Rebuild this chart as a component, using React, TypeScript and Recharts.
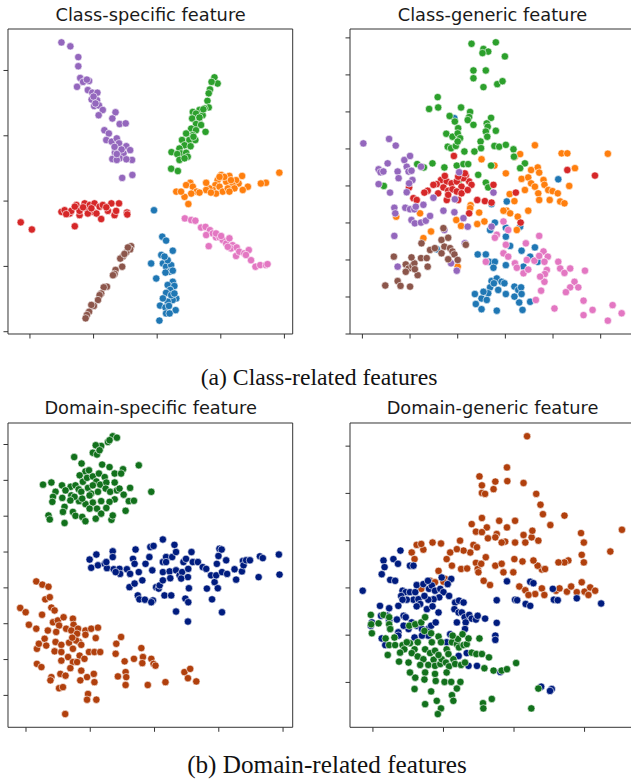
import React from 'react';
import { ScatterChart, Scatter, XAxis, YAxis, ReferenceArea } from 'recharts';

// tab10 for classes, seaborn "dark" for domains
const C = {
  blue: '#1f77b4', orange: '#ff7f0e', green: '#2ca02c', red: '#d62728',
  purple: '#9467bd', brown: '#8c564b', pink: '#e377c2',
  dBlue: '#001c7f', dOrange: '#b1400d', dGreen: '#12711c',
};

// ---- (a) class-specific feature ----
const csPurple = [[-30.1,48.6],[-27.3,47.4],[-24.8,44.1],[-24.8,41.3],[-24.2,37.7],[-25.2,35.0],[-22.5,37.0],[-21.4,36.8],[-23.3,36.5],[-21.8,34.0],[-20.4,33.2],[-18.8,33.2],[-20.6,31.1],[-18.9,30.9],[-19.8,29.1],[-18.3,29.3],[-17.1,27.9],[-18.4,26.3],[-13.1,27.2],[-14.1,25.3],[-11.8,23.6],[-9.9,23.8],[-16.6,21.7],[-15.2,20.7],[-16.0,18.7],[-14.3,18.2],[-12.7,19.2],[-12.0,17.7],[-9.7,16.8],[-8.5,15.6],[-13.3,14.8],[-11.6,15.1],[-10.6,14.6],[-11.8,13.1],[-14.1,12.9],[-7.9,12.6],[-9.7,12.8],[-12.7,12.6],[-11.0,7.1],[-7.8,8.0],[-22.1,37.2],[-20.0,32.0],[-19.4,29.9],[-13.4,16.6],[-11.2,15.8],[-12.7,14.4]];
const csGreen = [[18.0,37.9],[19.0,36.0],[17.1,36.5],[16.6,34.2],[16.2,33.0],[15.8,30.7],[16.2,28.7],[14.9,28.4],[13.3,27.9],[11.2,27.3],[12.2,26.8],[14.3,26.3],[11.0,25.3],[13.1,24.8],[12.2,23.6],[13.8,23.3],[15.2,21.2],[10.7,22.2],[12.2,21.7],[11.2,20.2],[9.1,20.7],[10.1,18.7],[7.8,18.7],[12.0,18.7],[8.6,17.1],[10.5,16.8],[7.0,16.1],[7.5,14.6],[4.5,15.0],[6.3,14.4],[9.1,14.8],[9.6,13.6],[7.0,12.6],[8.6,13.1],[4.4,9.9],[6.5,9.2],[11.4,19.7],[13.3,25.6],[14.5,28.1]];
const csOrange = [[38.4,8.7],[34.2,5.6],[32.6,5.4],[26.7,7.7],[28.5,4.4],[26.9,3.4],[25.6,5.4],[24.8,6.4],[22.7,7.7],[23.7,4.9],[21.7,5.9],[20.1,8.0],[19.0,6.4],[18.3,4.9],[17.5,3.4],[16.4,3.9],[15.4,3.4],[19.6,4.4],[20.6,2.9],[22.2,3.9],[18.5,2.3],[16.9,2.6],[23.2,6.4],[24.3,3.9],[22.7,2.9],[10.4,5.6],[9.1,4.9],[11.2,4.4],[12.4,2.9],[10.7,2.3],[8.6,1.3],[6.0,2.9],[7.5,2.9],[9.8,-0.9],[13.3,2.6],[15.4,5.6],[21.1,7.4],[19.6,7.4]];
const csRed = [[-42.9,-6.5],[-39.4,-8.7],[-30.1,-3.3],[-29.1,-2.8],[-27.5,-3.8],[-25.9,-7.7],[-25.4,-1.2],[-24.4,-4.3],[-22.8,-0.7],[-22.3,-2.2],[-21.2,-1.2],[-20.2,-3.3],[-19.7,-0.7],[-18.1,-1.7],[-19.1,-3.8],[-17.6,-5.5],[-24.4,-3.0],[-23.3,-1.9],[-21.8,-3.8],[-27.0,-3.0],[-28.6,-4.0],[-17.1,-1.2],[-15.5,-3.0],[-14.4,-0.7],[-13.4,-4.3],[-12.0,-0.7],[-12.9,-3.0],[-9.5,-3.5],[-9.4,-4.1],[-16.0,-1.9],[-20.7,-2.2],[-25.9,-1.7]];
const csPink = [[8.7,-5.3],[10.7,-5.8],[12.0,-6.0],[13.8,-8.1],[15.2,-7.9],[16.6,-8.9],[15.4,-10.4],[16.2,-13.8],[17.5,-9.9],[18.5,-11.1],[19.6,-11.1],[20.6,-11.9],[21.7,-13.0],[22.7,-11.4],[23.7,-13.5],[23.2,-14.5],[25.0,-14.2],[24.8,-16.8],[25.8,-15.5],[27.4,-16.0],[28.8,-15.0],[29.5,-18.1],[27.9,-16.5],[30.9,-20.1],[32.4,-19.6],[34.2,-19.6],[34.7,-19.3],[18.5,-9.9],[20.1,-10.7],[22.2,-14.0]];
const csBlue = [[-1.0,-2.8],[1.6,-10.9],[2.8,-12.1],[1.3,-16.5],[4.9,-15.2],[-1.9,-19.1],[1.8,-19.1],[2.8,-20.1],[4.4,-19.6],[3.9,-21.6],[4.9,-21.3],[2.6,-21.9],[-0.3,-23.7],[4.9,-24.7],[3.3,-25.7],[5.4,-26.0],[4.1,-27.2],[2.8,-28.1],[6.0,-29.8],[4.9,-30.3],[3.3,-30.8],[1.8,-29.8],[0.9,-32.0],[2.6,-32.6],[3.7,-32.1],[5.8,-33.4],[2.8,-34.4],[3.9,-34.4],[0.7,-36.6],[4.4,-28.8],[5.4,-28.3],[3.3,-18.1],[2.3,-17.0]];
const csBrown = [[-8.2,-13.8],[-8.5,-14.8],[-9.7,-15.7],[-10.8,-17.0],[-11.6,-17.6],[-11.0,-20.1],[-13.1,-21.1],[-13.4,-22.3],[-13.9,-22.7],[-15.8,-26.2],[-16.8,-26.4],[-17.6,-28.3],[-18.1,-28.8],[-18.6,-30.3],[-19.9,-32.1],[-20.7,-31.8],[-21.4,-33.9],[-22.1,-34.9],[-22.5,-35.9],[-9.2,-14.2],[-10.3,-16.2]];

// ---- (a) class-generic feature ----
const cgBlue = [[-0.7,18.3],[7.1,-4.9],[10.3,-4.2],[7.8,-9.9],[6.8,-11.9],[10.1,-11.3],[10.1,-13.7],[11.0,-16.2],[13.1,-11.0],[13.4,-17.5],[13.8,-21.8],[16.2,-16.6],[15.2,-19.1],[16.8,-20.5],[4.2,-18.5],[5.9,-18.5],[6.6,-20.5],[7.8,-20.5],[7.5,-22.1],[10.1,-21.4],[7.1,-25.7],[8.2,-25.0],[9.2,-25.9],[9.8,-26.3],[6.8,-27.4],[6.4,-29.0],[8.5,-28.1],[10.1,-29.2],[11.9,-27.2],[12.7,-28.1],[13.3,-27.4],[13.4,-29.2],[12.9,-31.5],[13.6,-33.5],[15.2,-31.3],[3.6,-29.2],[5.0,-30.4],[6.1,-30.8],[3.8,-31.9],[5.0,-33.3],[8.2,-33.7],[11.9,-29.9],[21.1,1.8],[-4.4,-17.1],[7.6,-26.3],[5.4,-28.6]];
const cgOrange = [[16.2,11.0],[21.8,8.8],[23.0,8.8],[31.5,8.7],[12.0,7.9],[13.1,8.6],[5.0,7.2],[7.7,5.5],[10.1,3.4],[13.4,1.9],[15.4,4.3],[16.8,5.0],[17.1,3.6],[14.8,2.3],[15.4,0.7],[14.1,-1.1],[16.2,-0.2],[18.0,1.6],[18.2,0.3],[16.9,-2.0],[19.0,-1.1],[19.9,-1.4],[21.0,-2.0],[23.4,0.0],[24.6,4.8],[10.9,-2.2],[11.9,-4.1],[10.3,-6.7],[11.0,-7.4],[12.6,-8.3],[14.8,-6.7],[17.1,-3.8],[19.3,-3.8],[21.5,-4.2],[22.4,-4.7],[2.7,-5.2],[4.5,-7.2],[2.6,-6.0],[-0.3,-9.2],[0.7,-10.8],[4.1,-10.3],[5.6,-9.6],[-5.6,-12.3],[-7.2,-14.1],[-12.9,-8.3],[-7.9,-7.4],[0.0,-21.8],[9.6,-6.7],[12.4,-11.9]];
const cgGreen = [[2.9,38.4],[5.4,37.0],[6.4,36.3],[5.2,35.9],[8.0,38.8],[9.9,35.0],[3.3,31.2],[5.9,31.2],[3.3,29.1],[5.4,26.7],[8.3,27.5],[9.4,28.3],[-4.2,24.0],[-6.0,20.8],[-4.1,21.2],[0.7,21.2],[2.6,20.0],[2.4,18.6],[2.1,17.8],[-1.7,18.9],[-0.6,17.4],[3.3,16.5],[7.0,18.4],[6.1,16.9],[6.3,16.0],[5.9,14.7],[6.2,13.3],[8.0,14.9],[-2.4,14.1],[-1.1,13.3],[0.1,15.6],[0.0,14.2],[0.5,12.9],[-2.1,10.6],[-1.4,10.2],[-0.4,10.8],[0.0,12.0],[4.8,12.0],[4.9,10.2],[3.5,9.3],[1.4,9.3],[7.7,10.8],[8.7,10.6],[10.1,11.1],[11.7,9.9],[11.8,7.9],[14.1,6.1],[13.1,4.8],[7.0,5.5],[-8.5,5.9],[-7.1,5.0],[-5.3,6.1],[-2.8,5.0],[-0.2,5.5],[1.2,5.9],[2.2,5.9],[4.3,3.0],[5.9,0.9],[6.4,-0.4],[-15.5,0.0],[0.3,1.6]];
const cgRed = [[-3.5,1.6],[-4.4,0.5],[-2.3,1.2],[-1.3,0.7],[-0.2,1.2],[0.8,-0.2],[1.7,2.8],[2.4,1.2],[2.9,0.3],[1.2,2.1],[0.1,2.5],[-3.0,-0.4],[-2.0,-1.3],[-1.1,-0.9],[-0.2,-1.5],[0.8,-2.0],[2.1,-1.1],[-4.1,-2.0],[-5.1,0.3],[-2.3,-3.8],[-2.0,-2.4],[0.1,-3.8],[-6.3,-1.3],[-7.0,-1.8],[-9.3,-3.3],[-8.6,-3.8],[-10.2,-0.4],[4.1,-3.8],[5.7,-4.1],[7.5,0.3],[7.1,-4.5],[2.4,-7.4],[-0.8,8.1],[23.0,4.3],[28.8,2.8],[13.2,-9.9],[12.2,-1.8],[1.5,3.4],[-2.7,2.7]];
const cgPurple = [[-19.8,11.5],[-14.4,12.7],[-13.0,10.9],[-16.6,4.5],[-16.2,3.7],[-15.6,3.9],[-14.7,6.1],[-16.6,0.5],[-14.2,-1.8],[-12.6,3.9],[-12.4,2.1],[-11.2,7.0],[-10.0,8.1],[-10.7,5.2],[-10.3,3.9],[-9.7,4.1],[-9.5,1.6],[-10.7,-1.7],[-10.2,0.7],[-7.7,5.2],[-13.3,-5.9],[-13.1,-7.4],[-11.0,-5.9],[-10.0,-6.3],[-9.1,-6.3],[-7.2,-5.1],[-9.7,-9.2],[-9.0,-10.1],[-7.7,-9.9],[-6.7,-9.4],[-5.8,-8.1],[-5.1,-3.2],[-3.0,-6.7],[-0.7,-7.1],[1.2,-8.7],[2.1,-11.0],[-2.8,-11.9],[-13.3,-13.5],[-12.6,-21.8],[-0.2,-22.9],[-1.4,-20.9],[7.1,-11.0],[7.5,-1.8],[0.3,3.7],[-0.6,-3.6],[1.5,-15.5],[-8.8,-5.6]];
const cgBrown = [[-15.2,-26.9],[-13.4,-19.1],[-12.6,-25.7],[-12.0,-27.0],[-10.0,-27.2],[-10.9,-21.2],[-10.3,-22.3],[-10.9,-23.2],[-9.5,-21.6],[-9.1,-20.9],[-8.4,-24.1],[-7.7,-19.5],[-6.5,-19.5],[-6.3,-21.8],[-5.8,-17.3],[-7.6,-15.5],[-3.4,-14.6],[-2.0,-14.0],[-2.8,-16.4],[-3.4,-18.2],[-1.6,-16.8],[-1.1,-17.7],[-0.7,-18.5],[-2.0,-19.8],[0.0,-20.0],[1.7,-15.9],[-4.8,-16.8],[-3.0,-11.4],[-9.7,-19.3],[-9.0,-22.5]];
const cgPink = [[9.6,-9.6],[10.6,-11.9],[8.2,-13.2],[7.8,-14.0],[10.1,-15.9],[9.6,-18.2],[10.6,-19.1],[5.9,-20.5],[12.0,-20.9],[12.4,-22.1],[13.8,-23.6],[14.3,-15.5],[14.5,-20.0],[16.1,-20.2],[17.1,-13.5],[18.0,-17.7],[17.1,-18.9],[18.9,-19.1],[18.2,-20.5],[18.7,-22.7],[18.3,-23.8],[18.2,-25.9],[17.5,-28.3],[16.4,-30.8],[21.1,-20.5],[21.5,-22.3],[22.4,-23.5],[23.6,-22.3],[26.7,-22.9],[24.5,-25.9],[23.6,-27.4],[25.3,-27.4],[22.7,-28.7],[26.4,-31.0],[28.3,-33.5],[26.4,-34.9],[20.3,-33.1],[32.5,-32.2],[34.4,-34.4],[31.5,-36.4],[17.3,-24.5],[14.8,-22.6]];

// ---- (b) domain-specific feature ----
const dsGreen = [[-13.0,32.3],[-11.7,31.9],[-14.5,30.7],[-14.0,31.2],[-16.6,29.6],[-18.3,29.8],[-19.2,27.7],[-17.9,27.2],[-17.1,28.4],[-25.0,26.5],[-22.7,24.7],[-16.3,24.4],[-4.9,24.2],[-14.0,23.7],[-9.8,23.1],[-12.4,21.9],[-10.4,21.9],[-21.5,22.5],[-20.4,22.8],[-23.3,21.4],[-22.3,19.6],[-21.0,20.7],[-19.2,21.1],[-17.3,21.9],[-15.5,20.9],[-18.1,19.7],[-16.9,18.8],[-15.0,19.4],[-12.4,19.4],[-34.7,18.8],[-32.1,19.4],[-28.8,18.6],[-26.1,18.2],[-24.6,18.6],[-23.6,17.5],[-27.7,17.2],[-30.8,16.8],[-31.6,15.4],[-31.8,14.0],[-28.7,15.1],[-25.9,15.8],[-22.8,16.8],[-20.7,17.9],[-19.7,16.3],[-17.6,16.8],[-15.2,17.7],[-13.8,16.8],[-11.7,17.2],[-10.9,17.7],[-7.6,17.9],[-9.6,16.0],[-8.0,14.2],[-6.4,14.3],[-1.0,16.8],[-12.4,14.7],[-14.0,14.0],[-16.6,14.2],[-19.2,13.8],[-21.5,13.4],[-23.5,14.2],[-24.9,15.4],[-26.2,14.4],[-20.2,12.1],[-17.9,12.1],[-15.0,12.3],[-28.0,12.6],[-28.5,11.2],[-33.0,10.2],[-32.6,9.1],[-28.0,8.1],[-25.4,11.2],[-24.6,10.1],[-22.5,9.8],[-21.5,8.6],[-18.3,9.3],[-16.6,10.7],[-13.4,9.0],[-13.0,10.2],[-9.0,11.5],[-20.2,15.8],[-22.5,14.9],[-19.2,18.6]];
const dsBlue = [[-20.2,-2.1],[-18.1,-0.7],[-19.7,-4.4],[-17.6,-3.7],[-15.5,-3.3],[-14.8,-4.5],[-12.7,-4.8],[-13.0,0.2],[-13.0,-1.4],[-10.9,-4.7],[-10.7,-6.1],[-8.6,-4.8],[-7.6,-6.1],[-7.8,-9.8],[-6.2,-8.8],[-6.7,-1.9],[-5.9,0.7],[-6.2,-3.3],[-4.9,-5.6],[-5.2,-12.1],[-4.7,-13.2],[-3.0,-13.3],[-2.8,-3.3],[-1.6,-1.4],[-1.3,1.4],[-0.3,1.7],[-0.7,-5.1],[-0.5,-13.5],[0.5,-9.8],[1.3,-10.2],[1.6,-9.3],[2.6,-7.9],[2.6,-2.8],[2.6,-5.6],[3.1,-12.1],[3.6,-1.4],[4.7,-5.4],[5.2,-12.1],[5.5,-1.4],[2.6,3.5],[6.2,2.0],[6.7,0.0],[4.9,-7.3],[6.7,-16.6],[6.7,-5.1],[7.8,-6.5],[8.6,-5.6],[9.0,-2.8],[9.8,-1.9],[10.5,-4.7],[10.4,-7.0],[9.6,-13.0],[10.7,-10.1],[10.5,-14.0],[10.4,-19.4],[11.5,0.0],[11.9,-2.8],[13.5,-2.8],[15.0,-4.2],[16.1,-4.7],[16.3,-10.2],[17.6,-6.5],[17.9,-13.2],[18.7,-8.4],[19.2,-6.5],[19.4,-3.3],[19.9,-1.1],[20.2,0.9],[19.7,-10.1],[21.0,-16.8],[20.9,0.7],[21.0,-5.6],[22.3,-2.3],[22.6,-6.1],[24.9,-4.8],[25.4,-7.7],[27.2,-5.4],[27.5,-2.5],[27.7,-3.7],[28.5,-2.3],[29.7,-2.3],[32.4,-7.0],[32.8,-1.2],[33.7,-1.7],[38.7,-0.7],[38.9,-6.3],[-1.0,-14.0],[-3.8,-7.9],[8.3,-7.4],[3.6,-2.8],[-15.0,-2.8],[-12.1,-5.6]];
const dsOrange = [[-36.8,-8.2],[-34.9,-9.1],[-33.0,-9.7],[-34.0,-13.2],[-32.6,-12.6],[-41.8,-15.6],[-40.1,-16.8],[-32.1,-15.5],[-31.1,-16.3],[-35.0,-17.5],[-39.1,-20.3],[-36.8,-21.4],[-31.6,-19.6],[-30.1,-19.1],[-28.3,-18.2],[-25.4,-18.6],[-29.7,-20.5],[-27.5,-21.4],[-25.2,-20.3],[-23.8,-21.4],[-33.2,-21.9],[-30.6,-22.3],[-25.9,-21.9],[-24.1,-22.8],[-36.6,-27.0],[-36.0,-25.6],[-34.2,-24.2],[-33.7,-26.1],[-30.8,-25.1],[-29.0,-25.9],[-26.6,-25.3],[-31.1,-27.7],[-29.0,-27.9],[-25.4,-27.0],[-23.5,-25.1],[-21.5,-21.9],[-19.7,-21.4],[-17.6,-21.1],[-21.5,-23.1],[-18.3,-24.0],[-20.4,-27.9],[-18.7,-27.9],[-16.9,-27.9],[-26.9,-29.3],[-25.4,-30.7],[-23.3,-28.9],[-21.8,-29.8],[-24.1,-30.7],[-36.6,-31.2],[-35.2,-32.1],[-29.0,-30.3],[-22.8,-33.1],[-21.0,-34.9],[-23.1,-35.8],[-18.9,-34.0],[-18.7,-36.3],[-32.1,-34.9],[-32.4,-35.8],[-29.3,-34.0],[-29.7,-38.0],[-28.5,-37.7],[-20.7,-39.6],[-21.0,-41.2],[-18.1,-41.2],[-27.8,-45.2],[-11.9,-25.6],[-10.4,-23.7],[-12.1,-28.4],[-9.3,-30.5],[-6.4,-29.8],[-9.0,-33.5],[-11.4,-34.7],[-8.8,-34.9],[-9.0,-37.1],[-4.1,-26.8],[-3.6,-29.3],[-3.8,-31.0],[-1.0,-29.8],[-0.3,-31.2],[0.3,-31.7],[-2.1,-37.1],[3.4,-36.3],[9.3,-33.5],[11.1,-32.6],[10.4,-35.2],[13.0,-36.1],[-26.2,-32.4],[-27.7,-34.5],[-24.4,-24.7],[-25.6,-23.9],[-22.8,-25.9]];

// ---- (b) domain-generic feature ----
const dgOrange = [[23.7,22.1],[18.0,15.5],[10.2,13.6],[10.9,11.7],[10.9,10.1],[11.8,9.9],[14.7,12.5],[14.2,10.9],[18.1,12.6],[22.7,12.2],[26.3,9.9],[27.5,7.6],[28.2,5.6],[34.3,5.3],[30.3,3.3],[39.0,1.6],[39.8,-0.4],[50.6,2.3],[47.3,-2.3],[39.2,-3.0],[39.8,-4.6],[35.4,-4.2],[34.3,-4.6],[32.6,-4.6],[27.9,-6.1],[26.7,-5.3],[25.5,-4.2],[22.4,-4.4],[20.1,-3.9],[20.3,-0.4],[23.2,-0.4],[25.0,0.7],[25.2,2.1],[26.9,0.0],[22.7,1.2],[20.3,4.2],[18.0,2.8],[17.5,-0.2],[15.8,4.2],[15.1,1.4],[12.3,2.8],[12.6,0.5],[10.9,4.8],[8.0,3.5],[9.2,1.9],[10.9,1.8],[8.5,-0.9],[9.5,-1.4],[7.6,-2.5],[5.7,-2.1],[4.7,0.0],[3.8,-1.8],[1.9,-2.5],[0.9,-3.9],[2.4,-5.3],[0.5,-8.1],[-1.4,-6.4],[0.0,-8.7],[5.0,-6.0],[6.7,-5.9],[9.2,-4.7],[9.7,-6.0],[12.0,-3.5],[10.7,-4.9],[9.9,-6.7],[11.4,-8.5],[13.2,-9.4],[14.7,-5.3],[16.5,-4.9],[17.0,-6.7],[19.8,-6.7],[16.5,-0.4],[21.5,-9.7],[23.2,-10.5],[26.0,-11.3],[27.9,-10.1],[28.6,-11.5],[31.9,-10.6],[32.9,-10.1],[35.0,-10.8],[36.2,-9.7],[37.8,-10.9],[39.2,-8.8],[40.0,-10.8],[41.6,-9.9],[43.0,-10.6],[41.1,-11.5],[-3.8,-8.5],[-2.4,-8.8],[-6.3,-10.2],[-9.0,-2.5],[-7.6,-0.9],[-8.2,-3.9],[-5.7,-1.9],[-6.3,-0.7],[-3.1,-0.4],[-0.7,-0.6],[24.1,-11.5],[28.8,-6.0],[14.7,0.7]];
const dgBlue = [[-22.9,-10.6],[-17.0,-4.2],[-16.7,-5.6],[-17.5,-7.1],[-15.1,-8.3],[-13.7,-8.5],[-14.2,-3.9],[-12.9,-4.9],[-12.2,-2.1],[-9.5,-5.3],[-8.5,-5.3],[-11.6,-10.6],[-10.7,-10.9],[-12.0,-11.7],[-9.5,-10.9],[-8.0,-10.9],[-8.5,-12.5],[-7.1,-12.4],[-7.6,-9.4],[-5.7,-9.2],[-4.1,-10.2],[-3.3,-9.5],[-2.4,-10.6],[-0.9,-10.2],[0.0,-10.9],[-1.2,-12.0],[-2.8,-12.4],[-4.3,-12.5],[-5.4,-11.7],[-6.6,-13.4],[-7.6,-13.9],[-4.7,-14.5],[-3.1,-13.9],[-10.4,-12.5],[-11.6,-12.5],[-12.8,-13.8],[-15.4,-14.3],[-15.9,-15.9],[-15.4,-16.9],[-18.0,-13.8],[-17.7,-15.9],[-20.3,-17.3],[-20.6,-18.0],[-15.1,-18.7],[-13.2,-16.7],[-11.3,-15.9],[-10.7,-16.2],[-9.0,-17.3],[-7.6,-18.0],[-6.1,-18.7],[-4.3,-18.7],[-3.5,-18.0],[-2.2,-17.3],[-4.3,-20.1],[-6.1,-20.1],[-8.2,-20.5],[-9.9,-18.7],[-11.3,-18.0],[-12.8,-19.4],[-16.5,-22.1],[-17.5,-20.7],[2.2,-8.1],[1.2,-9.2],[-0.5,-7.8],[1.6,-11.7],[3.3,-13.1],[4.4,-12.7],[5.7,-13.1],[3.1,-14.5],[4.3,-15.2],[5.2,-15.2],[3.8,-17.3],[6.0,-16.2],[7.3,-15.7],[8.0,-16.5],[9.2,-16.7],[9.7,-15.9],[11.8,-16.5],[6.3,-17.3],[15.1,-17.4],[15.1,-12.6],[18.0,-8.6],[20.3,-12.5],[20.9,-12.6],[23.3,-13.4],[24.6,-13.8],[24.6,-8.7],[25.5,-9.0],[31.0,-10.2],[31.3,-12.5],[32.4,-12.6],[37.8,-12.2],[44.7,-13.3],[14.7,-20.1],[14.7,-21.0],[6.6,-23.8],[7.1,-26.5],[9.5,-26.5],[16.1,-27.8],[6.1,-18.7],[1.9,-19.8],[0.9,-21.5],[4.3,-24.4],[27.7,-30.9],[30.7,-31.4],[30.2,-31.8],[-12.8,-20.1],[-1.4,-15.2],[-4.4,-8.5]];
const dgGreen = [[-20.6,-15.7],[-17.0,-15.7],[-20.5,-17.7],[-18.4,-17.5],[-20.3,-19.6],[-15.4,-16.2],[-15.4,-17.7],[-15.1,-18.7],[-16.4,-20.7],[-13.9,-20.5],[-15.4,-22.1],[-13.7,-22.1],[-15.8,-24.2],[-12.6,-25.6],[-11.6,-22.1],[-11.1,-23.0],[-12.3,-23.7],[-9.5,-21.7],[-9.7,-18.0],[-8.0,-17.7],[-6.3,-17.3],[-5.2,-16.2],[-5.4,-19.1],[-3.5,-19.6],[-1.4,-20.3],[-7.3,-21.5],[-8.2,-23.0],[-9.0,-23.8],[-9.9,-25.8],[-7.3,-24.5],[-5.7,-25.1],[-4.3,-26.3],[-2.8,-25.2],[-2.4,-26.5],[-0.9,-26.1],[-0.5,-25.1],[0.7,-25.8],[1.6,-26.6],[2.8,-25.1],[3.3,-26.1],[5.0,-26.3],[6.1,-25.8],[-5.2,-23.0],[-3.8,-23.8],[-2.4,-23.3],[-0.7,-21.5],[0.9,-23.0],[2.4,-21.5],[3.8,-21.9],[4.4,-22.6],[5.7,-22.1],[4.1,-20.8],[2.6,-20.1],[5.4,-19.8],[6.6,-21.9],[8.0,-23.7],[9.3,-24.0],[10.9,-24.0],[12.9,-24.7],[10.2,-20.7],[7.1,-20.7],[-1.4,-24.2],[1.4,-24.0],[-6.6,-26.3],[-5.2,-27.9],[-8.0,-29.0],[-8.2,-31.4],[-5.4,-29.4],[-2.2,-29.7],[0.3,-29.9],[2.2,-29.9],[4.8,-29.9],[3.8,-31.3],[2.4,-32.7],[2.8,-33.9],[-1.9,-33.9],[-0.7,-35.5],[-1.6,-36.7],[-5.2,-34.6],[-3.5,-31.9],[11.2,-34.4],[11.3,-35.5],[13.7,-33.5],[11.6,-27.0],[14.2,-27.5],[16.5,-27.5],[18.0,-27.2],[20.6,-25.9],[26.9,-31.3],[24.9,-35.5],[-3.3,-21.5],[0.9,-27.9],[-2.4,-28.2],[-9.5,-27.9],[-10.4,-21.5]];

type Series = { name: string; color: string; data: number[][] };

const toPts = (a: number[][]) => a.map(([x, y]) => ({ x, y }));

const dot = (color: string) => (p: any) =>
  p.cx == null ? <g /> : <circle cx={p.cx} cy={p.cy} r={3.7} fill={color} stroke="#fff" strokeWidth={0.6} />;

interface PanelProps {
  title: string;
  left: number; top: number; w: number; h: number;
  xDomain: number[]; yDomain: number[];
  xTicks: number[]; yTicks: number[];
  series: Series[];
}

function Panel({ title, left, top, w, h, xDomain, yDomain, xTicks, yTicks, series }: PanelProps) {
  const axisW = 10;
  return (
    <>
      <div style={{
        position: 'absolute', left, top: top - 24.5, width: w, textAlign: 'center',
        fontFamily: 'DejaVu Sans', fontSize: 17.8, lineHeight: '20px', color: '#1a1a1a', whiteSpace: 'nowrap',
      }}>{title}</div>
      <div style={{ position: 'absolute', left: left - axisW, top: top - 2 }}>
        <ScatterChart width={w + axisW + 2} height={h + axisW + 2} margin={{ top: 2, right: 2, bottom: 0, left: 0 }}>
          <XAxis type="number" dataKey="x" domain={xDomain} ticks={xTicks} interval={0} allowDataOverflow
            height={axisW} tickSize={4.5} axisLine={false} tickLine={{ stroke: '#333' }} tickFormatter={() => ''} />
          <YAxis type="number" dataKey="y" domain={yDomain} ticks={yTicks} interval={0} allowDataOverflow
            width={axisW} tickSize={4.5} axisLine={false} tickLine={{ stroke: '#333' }} tickFormatter={() => ''} />
          {series.map(s => (
            <Scatter key={s.name} name={s.name} data={toPts(s.data)} fill={s.color}
              shape={dot(s.color)} isAnimationActive={false} />
          ))}
          <ReferenceArea x1={xDomain[0]} x2={xDomain[1]} y1={yDomain[0]} y2={yDomain[1]}
            fill="none" fillOpacity={0} stroke="#333" strokeWidth={1} ifOverflow="visible" />
        </ScatterChart>
      </div>
    </>
  );
}

const captionStyle = (center: number, top: number, size: number): React.CSSProperties => ({
  position: 'absolute', left: center - 250, width: 500, top, textAlign: 'center',
  fontFamily: '"Liberation Serif", serif', fontSize: size, lineHeight: `${Math.round(size + 3)}px`,
  color: '#111', whiteSpace: 'nowrap',
});

export default function App() {
  return (
    <div style={{ position: 'absolute', left: 0, top: 0, width: 631, height: 779, overflow: 'hidden', background: '#fff' }}>
      <Panel title="Class-specific feature" left={8.3} top={29} w={284.7} h={305}
        xDomain={[-46.9, 42.6]} yDomain={[-40.7, 52.7]}
        xTicks={[-40, -20, 0, 20, 40]} yTicks={[-40, -20, 0, 20, 40]}
        series={[
          { name: 'blue', color: C.blue, data: csBlue },
          { name: 'orange', color: C.orange, data: csOrange },
          { name: 'green', color: C.green, data: csGreen },
          { name: 'red', color: C.red, data: csRed },
          { name: 'purple', color: C.purple, data: csPurple },
          { name: 'brown', color: C.brown, data: csBrown },
          { name: 'pink', color: C.pink, data: csPink },
        ]} />
      <Panel title="Class-generic feature" left={350} top={29} w={285} h={305}
        xDomain={[-22.6, 37.2]} yDomain={[-40, 42.4]}
        xTicks={[-20, -10, 0, 10, 20, 30]} yTicks={[-40, -30, -20, -10, 0, 10, 20, 30, 40]}
        series={[
          { name: 'blue', color: C.blue, data: cgBlue },
          { name: 'orange', color: C.orange, data: cgOrange },
          { name: 'green', color: C.green, data: cgGreen },
          { name: 'red', color: C.red, data: cgRed },
          { name: 'purple', color: C.purple, data: cgPurple },
          { name: 'brown', color: C.brown, data: cgBrown },
          { name: 'pink', color: C.pink, data: cgPink },
        ]} />
      <div style={captionStyle(319, 363.5, 23.7)}>(a) Class-related features</div>

      <Panel title="Domain-specific feature" left={8.3} top={422.7} w={284.7} h={304.3}
        xDomain={[-45.6, 43.0]} yDomain={[-48.9, 36.0]}
        xTicks={[-40, -20, 0, 20, 40]} yTicks={[-40, -30, -20, -10, 0, 10, 20, 30]}
        series={[
          { name: 'green', color: C.dGreen, data: dsGreen },
          { name: 'blue', color: C.dBlue, data: dsBlue },
          { name: 'orange', color: C.dOrange, data: dsOrange },
        ]} />
      <Panel title="Domain-generic feature" left={350} top={422.7} w={285} h={304.3}
        xDomain={[-26.5, 54.3]} yDomain={[-39.5, 24.9]}
        xTicks={[-20, 0, 20, 40]} yTicks={[-30, -20, -10, 0, 10, 20]}
        series={[
          { name: 'orange', color: C.dOrange, data: dgOrange },
          { name: 'blue', color: C.dBlue, data: dgBlue },
          { name: 'green', color: C.dGreen, data: dgGreen },
        ]} />
      <div style={captionStyle(327, 750.5, 25.2)}>(b) Domain-related features</div>
    </div>
  );
}
